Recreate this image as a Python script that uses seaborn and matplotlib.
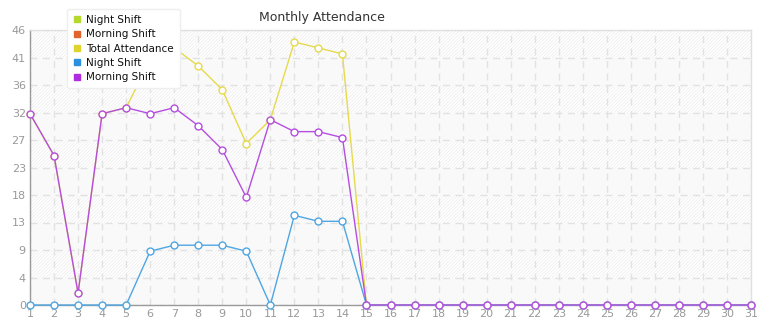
import numpy as np
import pandas as pd
import matplotlib
matplotlib.use("Agg")
import matplotlib.pyplot as plt
import seaborn as sns
from matplotlib.lines import Line2D

days = list(range(1, 32))
morning = [32, 25, 2, 32, 33, 32, 33, 30, 26, 18, 31, 29, 29, 28] + [0] * 17
night = [0, 0, 0, 0, 0, 9, 10, 10, 10, 9, 0, 15, 14, 14] + [0] * 17
total = [32, 25, 2, 32, 33, 41, 43, 40, 36, 27, 31, 44, 43, 42] + [0] * 17

legend_labels = ["Night Shift", "Morning Shift", "Total Attendance", "Night Shift", "Morning Shift"]
legend_colors = ["#b6d82c", "#e0642c", "#e0d42c", "#2c90e0", "#b02ce0"]

sns.set_theme(style="white")
plt.rcParams['font.family'] = ['DejaVu Sans']
plt.rcParams['hatch.linewidth'] = 0.5

fig = plt.figure(figsize=(7.65, 3.2), dpi=100)
ax = fig.add_axes([30 / 765, 15 / 320, 721 / 765, 275 / 320])

ymax = 46
step = ymax / 10
yt = [step * i for i in range(11)]

# alternating background bands
for i in range(10):
    lo, hi = yt[i], yt[i + 1]
    if i % 2 == 1:
        ax.axhspan(lo, hi, facecolor="#ffffff", hatch="//////////", edgecolor="#ececec", linewidth=0, zorder=0)
    else:
        ax.axhspan(lo, hi, facecolor="#f9f9f9", linewidth=0, zorder=0)

df = pd.DataFrame({"day": days, "Total Attendance": total, "Night Shift": night, "Morning Shift": morning})
series = [("Total Attendance", "#e6da4c"), ("Night Shift", "#4ea6e2"), ("Morning Shift", "#b54ee0")]
for i, (name, col) in enumerate(series):
    sns.lineplot(data=df, x="day", y=name, ax=ax, color=col, linewidth=1.0,
                 marker="o", markersize=5, markerfacecolor="white", markeredgecolor=col,
                 markeredgewidth=1.0, clip_on=False, zorder=3 + i, label=None)

ax.set_xlim(1, 31)
ax.set_ylim(0, ymax)
ax.set_xticks(days)
ax.set_xticklabels([str(d) for d in days])
ax.set_yticks(yt)
ax.set_yticklabels([str(int(v + 1e-9)) for v in yt])
ax.set_xlabel("")
ax.set_ylabel("")
ax.grid(True, color="#e2e2e2", linestyle=(0, (5, 4)), linewidth=1.0, zorder=1)
ax.set_axisbelow(True)
ax.tick_params(axis="both", colors="#999999", labelsize=8, length=0, pad=3)
ax.tick_params(axis="x", pad=3)
for s in ["left", "bottom"]:
    ax.spines[s].set_color("#9a9a9a")
    ax.spines[s].set_linewidth(1.0)
for s in ["top", "right"]:
    ax.spines[s].set_color("#e0e0e0")
    ax.spines[s].set_linewidth(1.0)
leg0 = ax.get_legend()
if leg0:
    leg0.remove()

handles = [Line2D([], [], marker="s", linestyle="none", markersize=4.5, color=c) for c in legend_colors]
leg = fig.legend(handles, legend_labels, loc="upper left", bbox_to_anchor=(62 / 765, 1 - 4 / 320),
                 frameon=True, fontsize=7.5, labelspacing=0.42, handlelength=0.8, handletextpad=0.5,
                 borderpad=0.55, fancybox=True)
leg.get_frame().set_facecolor("white")
leg.get_frame().set_edgecolor("#eeeeee")
leg.get_frame().set_alpha(1)
leg.set_zorder(10)
for t in leg.get_texts():
    t.set_color("#111111")

fig.text(322 / 765, 1 - 17 / 320, "Monthly Attendance", ha="center", va="center", fontsize=9, color="#333333")

fig.savefig("out.png", dpi=100)
